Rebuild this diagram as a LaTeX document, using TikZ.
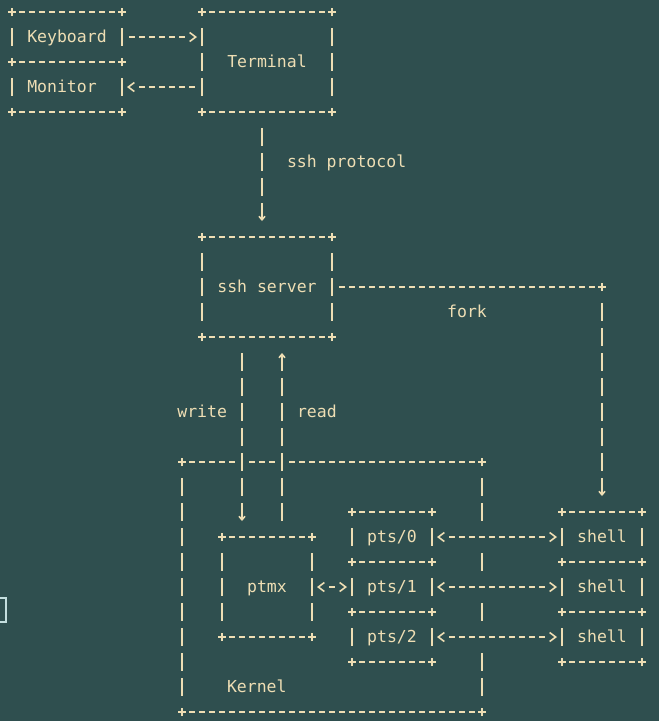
\documentclass[tikz,border=0pt]{standalone}
\usepackage{fontspec}
\setmonofont{DejaVu Sans Mono}
\usetikzlibrary{arrows.meta,decorations.markings}
\definecolor{term}{RGB}{47,79,79}
\definecolor{ink}{RGB}{238,222,180}
\definecolor{cursorline}{RGB}{196,222,222}
\tikzset{
  ascii/.style={ink, line width=1.6pt},
  hd/.style={ascii, dash pattern=on 6pt off 4pt, dash phase=8pt, shorten <=5pt, shorten >=5pt},
  tipend/.style={shorten >=15pt, postaction={decorate, decoration={markings, mark=at position -5pt with {\arrow{>}}}}},
  tipstart/.style={shorten <=15pt, postaction={decorate, decoration={markings, mark=at position 5pt with {\arrowreversed{>}}}}},
  vd/.style={ascii, dash pattern=on 18pt off 7pt, dash phase=21.5pt, shorten <=12.5pt, shorten >=12.5pt},
  va/.style={vd, -{Straight Barb[length=3.5pt,width=6pt]}, shorten >=16pt},
  box/.style={inner sep=0, outer sep=0, text=ink, font=\ttfamily\fontsize{16.5}{18}\selectfont, text height=12pt, text depth=2pt},
  lbl/.style={box},
  cutv/.style={preaction={draw=term, solid, -, line width=9pt}},
  cuth/.style={preaction={draw=term, solid, -, line width=21pt, shorten <=5pt, shorten >=5pt}},
}
\begin{document}
\begin{tikzpicture}[x=10pt, y=-25pt, >={Straight Barb[length=6pt,width=9pt]}]
\useasboundingbox[fill=term] (-1.2,-0.48) rectangle (64.7,28.36);
\draw[cursorline, line width=1.5pt] (-1.3,23.44) rectangle (-0.6,24.4);
% boxes
\node[box, minimum width=110pt, minimum height=50pt] (kb) at (5.5,1) {Keyboard};
\node[box, minimum width=110pt, minimum height=50pt] (mon) at (5.5,3) {Monitor\phantom{x}};
\node[box, minimum width=130pt, minimum height=100pt] (term) at (25.5,2) {Terminal};
\node[box, minimum width=130pt, minimum height=100pt] (ssh) at (25.5,11) {ssh server};
\node[box, minimum width=300pt, minimum height=250pt] (kernel) at (32,23) {};
\node[lbl, anchor=west] (kerneltext) at (21.5,27) {Kernel};
\node[box, minimum width=90pt, minimum height=100pt] (ptmx) at (25.5,23) {ptmx};
\foreach \i/\r in {0/21,1/23,2/25} {
  \node[box, minimum width=80pt, minimum height=50pt] (pts\i) at (38,\r) {pts/\i};
  \node[box, minimum width=80pt, minimum height=50pt] (shell\i) at (59,\r) {shell};
}
\foreach \n in {kb,mon,term,ssh,kernel,ptmx,pts0,pts1,pts2,shell0,shell1,shell2} {
  \draw[hd] (\n.north west) -- (\n.north east);
  \draw[hd] (\n.south west) -- (\n.south east);
  \draw[vd] (\n.north west) -- (\n.south west);
  \draw[vd] (\n.north east) -- (\n.south east);
  \foreach \c in {north west,north east,south west,south east}
    \draw[ascii] (\n.\c) +(-4pt,0) -- +(4pt,0) +(0,-4pt) -- +(0,4pt);
}
% connectors
\coordinate (protocol) at (25,0);
\coordinate (wr) at (23,0);
\coordinate (rd) at (27,0);
\coordinate (forkturn) at (ssh.east -| shell0.north);
\draw[hd, tipend] (kb.east) -- (kb.east -| term.west);
\draw[hd, tipend] (mon.east -| term.west) -- (mon.east);
\draw[va] (term.south -| protocol) -- (ssh.north -| protocol)
  node[lbl, pos=.4, anchor=west, xshift=25pt] (protolbl) {ssh protocol};
\draw[va, cutv] (ssh.south -| wr) -- (ptmx.north -| wr)
  node[lbl, pos=.375, anchor=east, xshift=-15pt] (writelbl) {write};
\draw[va, cutv] (ptmx.north -| rd) -- (ssh.south -| rd)
  node[lbl, pos=.625, anchor=west, xshift=15pt] (readlbl) {read};
\draw[hd] (ssh.east) -- (forkturn)
  node[lbl, midway, yshift=-25pt] (forklbl) {fork};
\draw[ascii] (forkturn) +(-4pt,0) -- +(4pt,0) +(0,-4pt) -- +(0,4pt);
\draw[va] (forkturn) -- (shell0.north);
\draw[hd, tipstart, tipend] (ptmx.east) -- (pts1.west);
\foreach \i in {0,1,2}
  \draw[hd, tipstart, tipend, cuth] (pts\i.east) -- (shell\i.west);
\end{tikzpicture}
\end{document}
